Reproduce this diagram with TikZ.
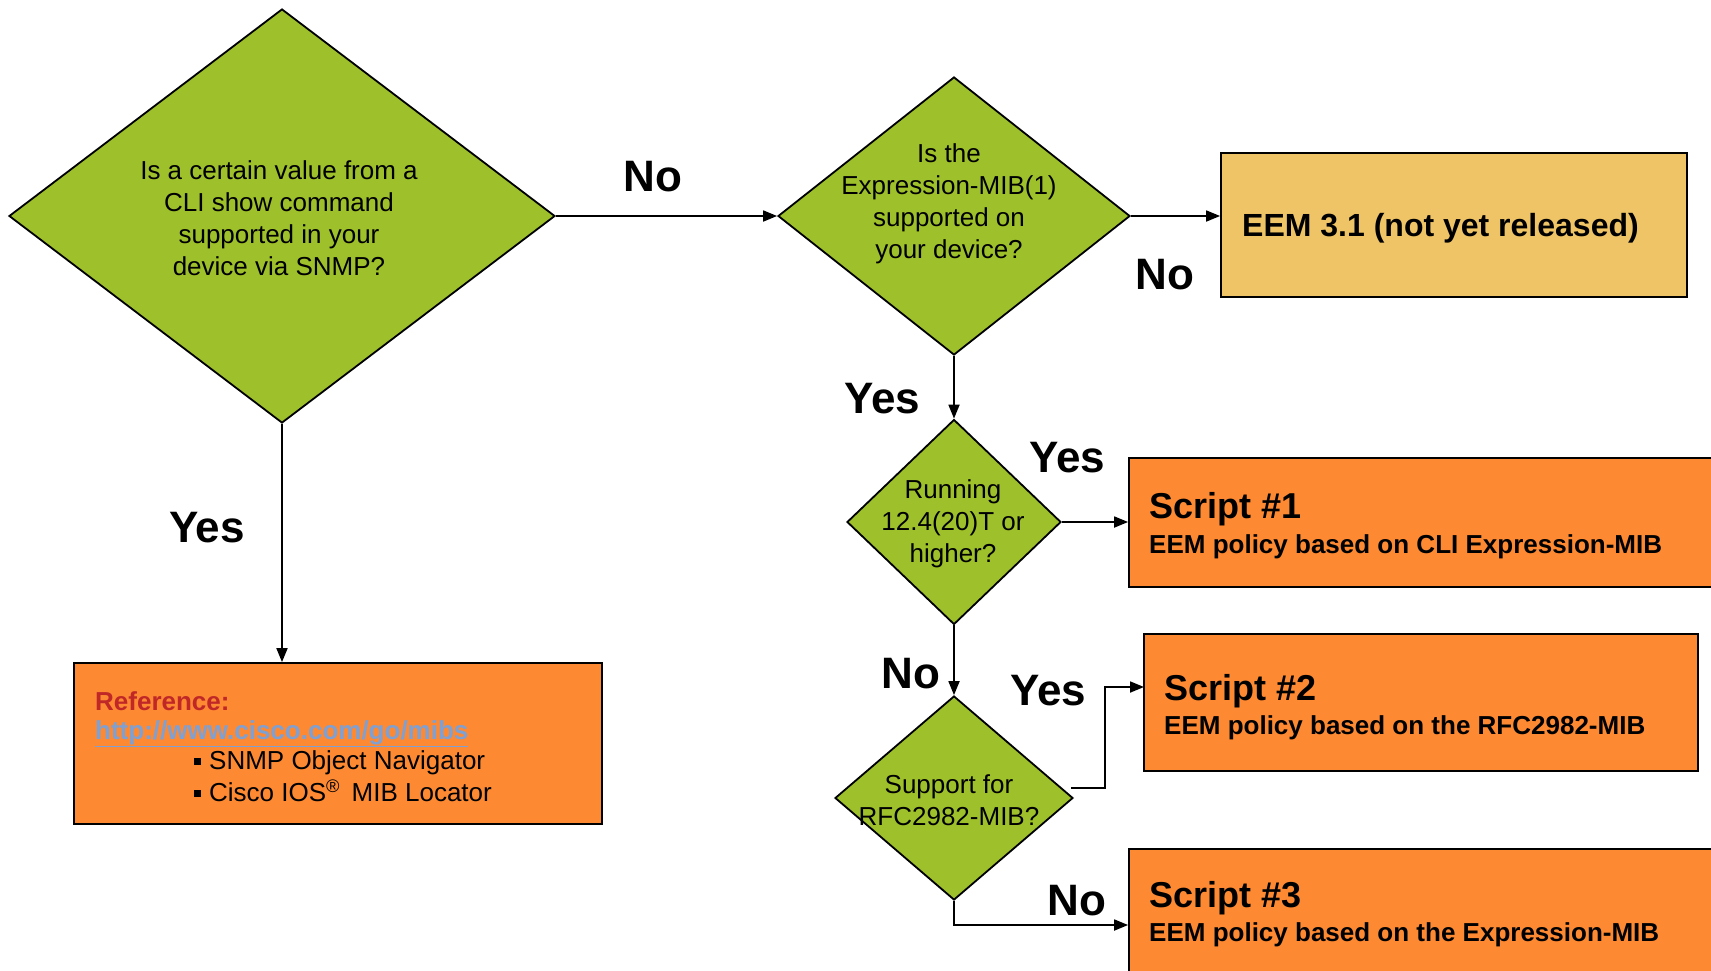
\documentclass[tikz,border=0pt]{standalone}
\usepackage{fontspec}
\setmainfont{Liberation Sans}
\usetikzlibrary{shapes.geometric,arrows.meta}
\definecolor{dgreen}{RGB}{158,192,42}
\definecolor{borange}{RGB}{253,137,51}
\definecolor{byellow}{RGB}{239,196,102}
\definecolor{refred}{RGB}{192,40,40}
\definecolor{linkblue}{RGB}{127,160,210}
\begin{document}
\begin{tikzpicture}[x=1pt,y=-1pt,
  dec/.style={draw=black, line width=1.8pt, fill=dgreen, shape=diamond, inner sep=0pt},
  box/.style={draw=black, line width=1.8pt, fill=borange, rectangle, inner sep=0pt},
  qtext/.style={align=center, font=\fontsize{26}{32}\selectfont, inner sep=0pt},
  yn/.style={font=\bfseries\fontsize{44}{48}\selectfont, inner sep=0pt},
  stitle/.style={anchor=west, font=\bfseries\fontsize{36}{40}\selectfont, inner sep=0pt},
  ssub/.style={anchor=west, font=\bfseries\fontsize{26}{30}\selectfont, inner sep=0pt},
  rtext/.style={anchor=west, font=\fontsize{26}{30}\selectfont, inner sep=0pt},
  arr/.style={line width=1.8pt, -{Triangle[length=14pt,width=11pt]}},
]
\useasboundingbox (0,0) rectangle (1711,970);

% decisions
\node[dec, minimum width=546pt, minimum height=414pt] (d1) at (282,216) {};
\node[dec, minimum width=352pt, minimum height=278pt] (d2) at (954,216) {};
\node[dec, minimum width=214pt, minimum height=205pt] (d3) at (954,522) {};
\node[dec, minimum width=238pt, minimum height=204pt] (d4) at (954,798) {};

\node[qtext] (t1) at (279,218) {Is a certain value from a\\CLI show command\\supported in your\\device via SNMP?};
\node[qtext] (t2) at (949,204) {Is the\\Expression-MIB(1)\\supported on\\your device?};
\node[qtext] (t3) at (953,524) {Running\\12.4(20)T or\\higher?};
\node[qtext] (t4) at (949,800) {Support for\\RFC2982-MIB?};

% boxes
\node[box, fill=byellow, minimum width=466pt, minimum height=144pt] (eem) at (1454,225) {};
\node[box, minimum width=591pt, minimum height=129pt] (s1) at (1424.5,522.5) {};
\node[box, minimum width=554pt, minimum height=137pt] (s2) at (1421,702.5) {};
\node[box, minimum width=591pt, minimum height=152pt] (s3) at (1424.5,925) {};
\node[box, minimum width=528pt, minimum height=161pt] (ref) at (338,743.5) {};

\node[anchor=west, font=\bfseries\fontsize{32}{36}\selectfont, inner sep=0pt] (eemt) at (1242,228) {EEM 3.1 (not yet released)};

\node[stitle] (s1a) at (1149,509) {Script \#1};
\node[ssub] (s1b) at (1149,547) {EEM policy based on CLI Expression-MIB};
\node[stitle] (s2a) at (1164,691) {Script \#2};
\node[ssub] (s2b) at (1164,728) {EEM policy based on the RFC2982-MIB};
\node[stitle] (s3a) at (1149,898) {Script \#3};
\node[ssub] (s3b) at (1149,935) {EEM policy based on the Expression-MIB};

\node[anchor=west, font=\bfseries\fontsize{26}{30}\selectfont, text=refred, inner sep=0pt] (r1) at (95,701) {Reference:};
\node[anchor=west, font=\bfseries\fontsize{26}{30}\selectfont, text=linkblue, inner sep=0pt] (r2) at (95,734) {\underline{http://www.cisco.com/go/mibs}};
\node[rtext] (r3) at (209,763) {\llap{\raisebox{5pt}{\rule{7pt}{7pt}}\hspace{8pt}}SNMP Object Navigator};
\node[rtext] (r4) at (209,791) {\llap{\raisebox{5pt}{\rule{7pt}{7pt}}\hspace{8pt}}Cisco IOS\textsuperscript{®}\, MIB Locator};

% connectors
\draw[arr] (d1.east) -- (d2.west);
\draw[arr] (d2.east) -- (d2.east -| eem.west);
\draw[arr] (d2.south) -- (d3.north);
\draw[arr] (d3.east) -- (d3.east -| s1.west);
\draw[arr] (d3.south) -- (d4.north);
\coordinate (d4y) at (1071,788);
\coordinate (s2y) at (1144,687);
\draw[arr] (d4y) -- (1105,788) |- (s2y);
\draw[arr] (d4.south) |- (s3.west);
\draw[arr] (d1.south) -- (d1.south |- ref.north);

% labels
\node[yn] (l1) at (653,177) {No};
\node[yn] (l2) at (1165,275) {No};
\node[yn] (l3) at (882,399) {Yes};
\node[yn] (l4) at (1067,458) {Yes};
\node[yn] (l5) at (911,674) {No};
\node[yn] (l6) at (1048,691) {Yes};
\node[yn] (l7) at (1077,901) {No};
\node[yn] (l8) at (207,528) {Yes};
\end{tikzpicture}
\end{document}
